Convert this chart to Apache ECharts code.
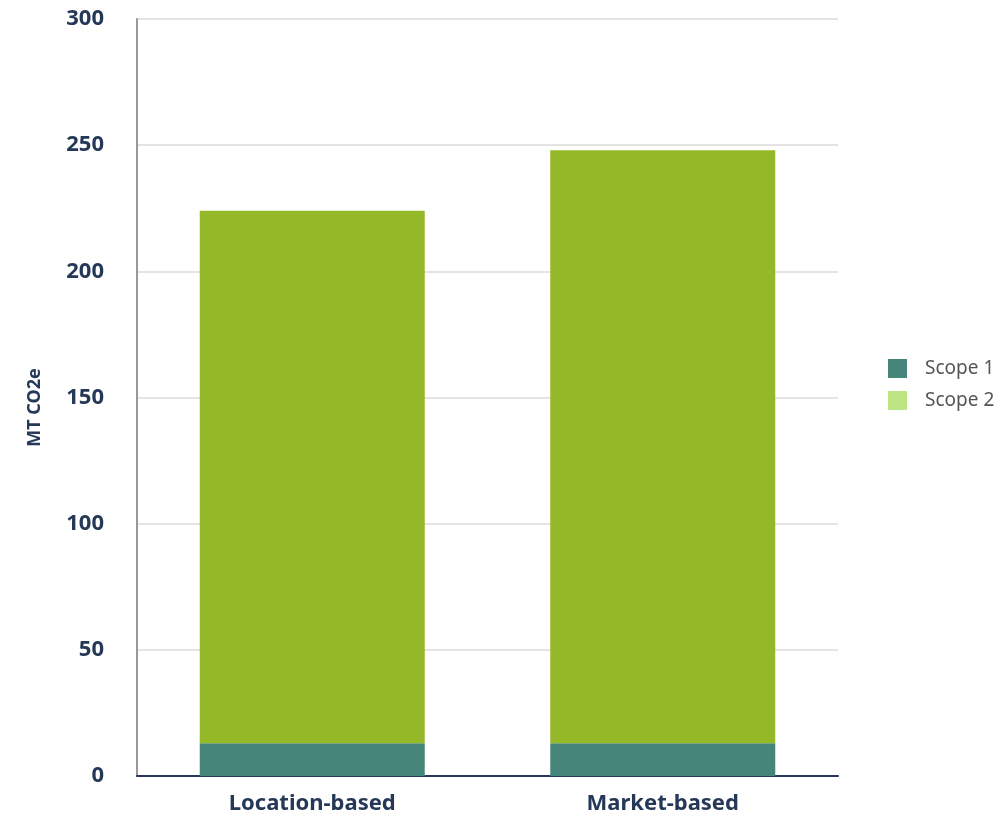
<!DOCTYPE html>
<html>
<head>
<meta charset="utf-8">
<script src="https://cdn.jsdelivr.net/npm/echarts@6/dist/echarts.min.js"></script>
<style>
html,body{margin:0;padding:0;background:#fff;}
#chart{width:1004px;height:816px;}
</style>
</head>
<body>
<div id="chart"></div>
<script>
const categories = ['Location-based', 'Market-based'];
const scope1 = [13, 13];
const scope2 = [211, 235];
const yTicks = [0, 50, 100, 150, 200, 250, 300];

const navy = '#253858';
const font = 'Noto Sans';
const chart = echarts.init(document.getElementById('chart'));
chart.setOption({
  animation: false,
  grid: { left: 137, right: 166, top: 19, bottom: 40, containLabel: false },
  legend: {
    orient: 'vertical',
    left: 888,
    top: 359,
    padding: 0,
    itemWidth: 19,
    itemHeight: 19,
    itemGap: 13,
    icon: 'rect',
    textStyle: { fontFamily: font, fontSize: 19, color: '#555', padding: [0, 0, 0, 13] },
    data: [
      { name: 'Scope 1', itemStyle: { color: '#45857a' } },
      { name: 'Scope 2', itemStyle: { color: '#bde583' } }
    ]
  },
  xAxis: {
    type: 'category',
    data: categories,
    axisLine: { lineStyle: { color: navy, width: 2 } },
    axisTick: { show: false },
    axisLabel: { fontFamily: font, fontWeight: 'bold', fontSize: 22, color: navy, margin: 17 }
  },
  yAxis: {
    type: 'value',
    min: yTicks[0],
    max: yTicks[yTicks.length - 1],
    interval: 50,
    name: 'MT CO2e',
    nameLocation: 'middle',
    nameGap: 93,
    nameTextStyle: { fontFamily: font, fontWeight: 'bold', fontSize: 18, color: navy, padding: [0, 20, 0, 0] },
    axisLine: { show: true, lineStyle: { color: '#999', width: 2 } },
    axisTick: { show: false },
    splitLine: { lineStyle: { color: '#e4e4e4', width: 2 } },
    axisLabel: { fontFamily: font, fontWeight: 'bold', fontSize: 22, color: navy, margin: 33 }
  },
  series: [
    { name: 'Scope 1', type: 'bar', stack: 'total', data: scope1, barWidth: 225, itemStyle: { color: '#45857a' } },
    { name: 'Scope 2', type: 'bar', stack: 'total', data: scope2, barWidth: 225, itemStyle: { color: '#94b828' } }
  ]
});
</script>
</body>
</html>
